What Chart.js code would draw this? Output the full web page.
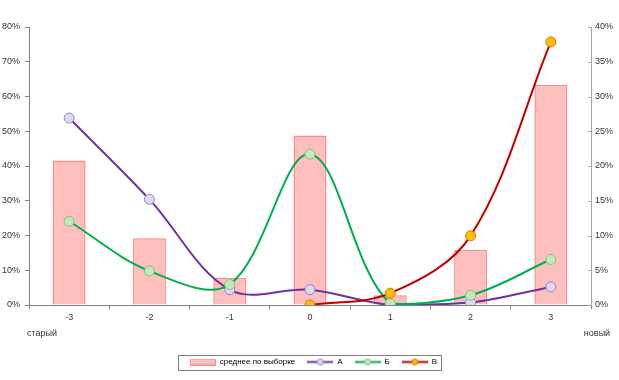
<!DOCTYPE html>
<html>
<head>
<meta charset="utf-8">
<script src="https://cdn.jsdelivr.net/npm/chart.js@4.4.1/dist/chart.umd.min.js"></script>
<style>
  html, body { margin: 0; padding: 0; background: #fff; }
</style>
</head>
<body>
<canvas id="chart" width="619" height="380"></canvas>
<script>
// categories on the x axis
const categories = ['-3', '-2', '-1', '0', '1', '2', '3'];
const endLabels = ['старый', 'новый'];

// bars, right axis (%)
const averageSample = [20.8, 9.6, 3.9, 24.4, 1.4, 7.9, 31.7];
// lines, left axis (%)
const seriesA = [53.8, 30.4, 4.4, 4.4, 0.0, 0.7, 5.2];
const seriesB = [24.1, 9.8, 5.9, 43.4, 0.4, 2.8, 13.1];
const seriesV = [null, null, null, 0.0, 3.4, 19.9, 75.7];

const seriesNames = ['среднее по выборке', 'А', 'Б', 'В'];
const leftMax = 80, leftStep = 10;
const rightMax = 40, rightStep = 5;

const FONT = 'Liberation Sans';
Chart.defaults.font.family = FONT;
Chart.defaults.font.size = 9;
Chart.defaults.color = '#333';

function barMarker() {
  const c = document.createElement('canvas');
  c.width = 26; c.height = 7;
  const g = c.getContext('2d');
  g.fillStyle = '#ffbfbf';
  g.fillRect(0.5, 0.5, 25, 6);
  g.strokeStyle = '#ff8a8a';
  g.lineWidth = 1;
  g.strokeRect(0.5, 0.5, 25, 6);
  return c;
}

function lineMarker(color, fill, border) {
  const c = document.createElement('canvas');
  c.width = 26; c.height = 9;
  const g = c.getContext('2d');
  g.strokeStyle = color;
  g.lineWidth = 2;
  g.beginPath(); g.moveTo(0, 4.5); g.lineTo(26, 4.5); g.stroke();
  g.beginPath(); g.arc(13, 4.5, 3, 0, Math.PI * 2);
  g.fillStyle = fill; g.fill();
  g.lineWidth = 1; g.strokeStyle = border; g.stroke();
  return c;
}

const markers = [
  barMarker(),
  lineMarker('#7030a0', '#dcdcf0', '#9c80c8'),
  lineMarker('#00b050', '#c6e7b9', '#7cc47c'),
  lineMarker('#c00000', '#ffc000', '#e46c0a')
];

// legend frame, inner ticks of the right axis, end captions under the x axis
const extras = {
  id: 'extras',
  afterUpdate(chart) {
    // nudge legend a little to the right, as in the original
    const lg = chart.legend;
    lg.left += 4; lg.right += 4;
    (lg.legendHitBoxes || []).forEach(b => { b.left += 4; });
  },
  afterDraw(chart) {
    const ctx = chart.ctx, area = chart.chartArea;
    ctx.save();
    ctx.font = '9px "' + FONT + '"';
    ctx.fillStyle = '#333';
    ctx.textAlign = 'center';
    ctx.textBaseline = 'middle';
    ctx.fillText(endLabels[0], area.left + 13, area.bottom + 29);
    ctx.fillText(endLabels[1], area.right + 6, area.bottom + 29);

    const y1 = chart.scales.y1;
    ctx.strokeStyle = '#a6a6a6';
    ctx.lineWidth = 1;
    ctx.beginPath();
    y1.ticks.forEach(t => {
      const py = Math.round(y1.getPixelForValue(t.value)) + 0.5;
      ctx.moveTo(area.right - 3, py);
      ctx.lineTo(area.right, py);
    });
    ctx.stroke();

    const boxes = chart.legend.legendHitBoxes;
    if (boxes && boxes.length) {
      const first = boxes[0], last = boxes[boxes.length - 1];
      const cy = first.top + first.height / 2;
      const x0 = Math.round(first.left - 12) + 0.5;
      const x1 = Math.round(last.left + last.width + 4) + 0.5;
      ctx.strokeStyle = '#808080';
      ctx.strokeRect(x0, Math.round(cy - 7.5) + 0.5, x1 - x0, 15);
    }
    ctx.restore();
  }
};

function lineSet(label, data, color, fill, border, order) {
  return {
    type: 'line',
    label: label,
    data: data,
    yAxisID: 'y',
    borderColor: color,
    borderWidth: 2,
    backgroundColor: fill,
    pointBackgroundColor: fill,
    pointBorderColor: border,
    pointBorderWidth: 1,
    pointRadius: 5,
    pointHoverRadius: 5,
    tension: 0.35,
    fill: false,
    order: order
  };
}

new Chart(document.getElementById('chart'), {
  data: {
    labels: categories,
    datasets: [
      {
        type: 'bar',
        label: seriesNames[0],
        data: averageSample,
        yAxisID: 'y1',
        backgroundColor: '#ffbfbf',
        borderColor: '#ff8a8a',
        borderWidth: 1.5,
        barPercentage: 0.41,
        categoryPercentage: 1.0,
        order: 4
      },
      lineSet(seriesNames[1], seriesA, '#7030a0', '#dcdcf0', '#9c80c8', 3),
      lineSet(seriesNames[2], seriesB, '#00b050', '#c6e7b9', '#7cc47c', 2),
      lineSet(seriesNames[3], seriesV, '#c00000', '#ffc000', '#e46c0a', 1)
    ]
  },
  options: {
    responsive: false,
    animation: false,
    layout: { padding: { top: 27, left: 0, right: 0, bottom: 4 } },
    plugins: {
      tooltip: { enabled: false },
      legend: {
        position: 'bottom',
        labels: {
          usePointStyle: true,
          pointStyleWidth: 26,
          boxHeight: 8,
          padding: 12,
          color: '#222',
          font: { size: 8 },
          generateLabels(chart) {
            return chart.data.datasets.map((ds, i) => ({
              text: ds.label,
              pointStyle: markers[i],
              fillStyle: 'transparent',
              strokeStyle: 'transparent',
              lineWidth: 0,
              hidden: false,
              datasetIndex: i
            }));
          }
        }
      }
    },
    scales: {
      x: {
        type: 'category',
        offset: true,
        grid: {
          offset: true,
          drawOnChartArea: false,
          tickLength: 4,
          color: '#808080'
        },
        border: { color: '#808080', width: 1 },
        ticks: { autoSkip: false, maxRotation: 0, padding: 3, color: '#333' },
        afterFit(scale) { scale.height = 41; }
      },
      y: {
        position: 'left',
        min: 0,
        max: leftMax,
        grid: { drawOnChartArea: false, tickLength: 4, color: '#808080' },
        border: { color: '#808080', width: 1 },
        ticks: {
          stepSize: leftStep,
          padding: 5,
          color: '#333',
          callback: v => v + '%'
        },
        afterFit(scale) { scale.width = 29; }
      },
      y1: {
        position: 'right',
        min: 0,
        max: rightMax,
        grid: { drawOnChartArea: false, drawTicks: false, color: '#a0a0a0' },
        border: { color: '#a6a6a6', width: 1 },
        ticks: {
          stepSize: rightStep,
          padding: 4,
          color: '#333',
          callback: v => v + '%'
        },
        afterFit(scale) { scale.width = 28; }
      }
    }
  },
  plugins: [extras]
});
</script>
</body>
</html>
